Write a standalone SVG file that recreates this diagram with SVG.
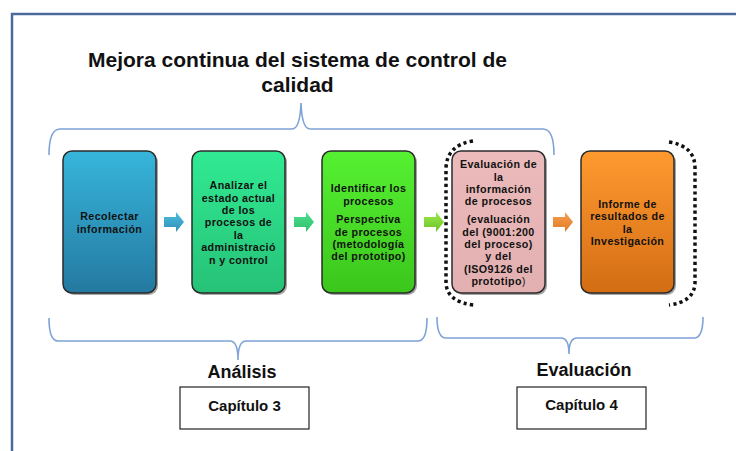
<svg xmlns="http://www.w3.org/2000/svg" width="736" height="451" viewBox="0 0 736 451">
<style>
.frame{fill:none;stroke:#4a6b9c;stroke-width:2.5}
.title{font-family:"Liberation Sans",Arial,sans-serif;font-weight:bold;font-size:21px;fill:#111;text-anchor:middle}
.box{stroke:#2b2b2b;stroke-width:1.5}
.shadow{fill:#000;opacity:0.35}
.bt{font-family:"Liberation Sans",Arial,sans-serif;font-weight:bold;font-size:10.7px;letter-spacing:0.4px;fill:#111;text-anchor:middle}
.brace{fill:none;stroke:#7ea3d6;stroke-width:1.6}
.dots{fill:none;stroke:#111;stroke-width:3.5;stroke-dasharray:3.2 3.2}
.lab{font-family:"Liberation Sans",Arial,sans-serif;font-weight:bold;font-size:18px;fill:#111;text-anchor:middle}
.cap{fill:#fff;stroke:#222;stroke-width:1.2}
.ct{font-family:"Liberation Sans",Arial,sans-serif;font-weight:bold;font-size:15px;fill:#111;text-anchor:middle}
</style>
<defs>
<linearGradient id="g1" x1="0" y1="0" x2="0" y2="1"><stop offset="0" stop-color="#37b5db"/><stop offset="1" stop-color="#2479a0"/></linearGradient>
<linearGradient id="g2" x1="0" y1="0" x2="0" y2="1"><stop offset="0" stop-color="#31ea93"/><stop offset="1" stop-color="#26c277"/></linearGradient>
<linearGradient id="g3" x1="0" y1="0" x2="0" y2="1"><stop offset="0" stop-color="#56f132"/><stop offset="1" stop-color="#3bc61c"/></linearGradient>
<linearGradient id="g4" x1="0" y1="0" x2="0" y2="1"><stop offset="0" stop-color="#ebbaba"/><stop offset="1" stop-color="#e3b0b1"/></linearGradient>
<linearGradient id="g5" x1="0" y1="0" x2="0" y2="1"><stop offset="0" stop-color="#ff9a30"/><stop offset="1" stop-color="#d36d14"/></linearGradient>
<linearGradient id="a1" x1="0" y1="0" x2="0" y2="1"><stop offset="0" stop-color="#4fbde0"/><stop offset="1" stop-color="#2d8fb8"/></linearGradient>
<linearGradient id="a2" x1="0" y1="0" x2="0" y2="1"><stop offset="0" stop-color="#4fe090"/><stop offset="1" stop-color="#2ebf6c"/></linearGradient>
<linearGradient id="a3" x1="0" y1="0" x2="0" y2="1"><stop offset="0" stop-color="#9be84a"/><stop offset="1" stop-color="#6cc428"/></linearGradient>
<linearGradient id="a4" x1="0" y1="0" x2="0" y2="1"><stop offset="0" stop-color="#f7a050"/><stop offset="1" stop-color="#e07a24"/></linearGradient>
</defs>

<rect class="frame" x="12" y="14" width="740" height="450"/>

<g id="title">
<text class="title" x="297.5" y="67">Mejora continua del sistema de control de</text>
<text class="title" x="297.5" y="92">calidad</text>
</g>

<g id="connectors">
<path class="brace" d="M49,155 Q49,129 60,129 L292,129 Q300,129 301,103 Q302,129 310,129 L543,129 Q554,129 554,155"/>
<path class="brace" d="M49,318 Q49,341 58,341 L230,341 Q238,341 238,360 Q238,341 246,341 L418,341 Q427,341 427,318"/>
<path class="brace" d="M437,317 Q437,338 446,338 L561,338 Q569,338 569,354 Q569,338 577,338 L694,338 Q703,338 703,317"/>
<path fill="url(#a1)" d="M164,217 L176,217 L176,212 L184,222 L176,232 L176,227 L164,227 Z"/>
<path fill="url(#a2)" d="M294,217 L306,217 L306,212 L314,222 L306,232 L306,227 L294,227 Z"/>
<path fill="url(#a3)" d="M424,217 L436,217 L436,212 L444,222 L436,232 L436,227 L424,227 Z"/>
<path fill="url(#a4)" d="M553,217 L565,217 L565,212 L573,222 L565,232 L565,227 L553,227 Z"/>
<path class="dots" d="M473,141 Q447,145 446,168 L446,283 Q447,302 474,305"/>
<path class="dots" d="M669,142 Q695,146 695,168 L695,283 Q694,302 669,305"/>
</g>

<g id="n1">
<rect class="shadow" x="65" y="153" width="93" height="142" rx="9"/>
<rect class="box" x="63" y="151" width="93" height="142" rx="9" fill="url(#g1)"/>
<text class="bt" x="109.5" y="220">Recolectar</text>
<text class="bt" x="109.5" y="232.5">información</text>
</g>

<g id="n2">
<rect class="shadow" x="194" y="153" width="93" height="142" rx="9"/>
<rect class="box" x="192" y="151" width="93" height="142" rx="9" fill="url(#g2)"/>
<text class="bt" x="238.5" y="189">Analizar el</text>
<text class="bt" x="238.5" y="201.5">estado actual</text>
<text class="bt" x="238.5" y="214">de los</text>
<text class="bt" x="238.5" y="226.3">procesos de</text>
<text class="bt" x="238.5" y="238.7">la</text>
<text class="bt" x="238.5" y="251.1">administració</text>
<text class="bt" x="238.5" y="263.5">n y control</text>
</g>

<g id="n3">
<rect class="shadow" x="324" y="153" width="93" height="142" rx="9"/>
<rect class="box" x="322" y="151" width="93" height="142" rx="9" fill="url(#g3)"/>
<text class="bt" x="368.5" y="192.3" letter-spacing="0">Identificar los</text>
<text class="bt" x="368.5" y="204.8">procesos</text>
<text class="bt" x="368.5" y="223.3">Perspectiva</text>
<text class="bt" x="368.5" y="235.6">de procesos</text>
<text class="bt" x="368.5" y="247.9">(metodología</text>
<text class="bt" x="368.5" y="260.2">del prototipo)</text>
</g>

<g id="n4">
<rect class="shadow" x="454" y="153" width="93" height="142" rx="9"/>
<rect class="box" x="452" y="151" width="93" height="142" rx="9" fill="url(#g4)"/>
<text class="bt" x="498.5" y="168.3">Evaluación de</text>
<text class="bt" x="498.5" y="180.6">la</text>
<text class="bt" x="498.5" y="192.9">información</text>
<text class="bt" x="498.5" y="205.2">de procesos</text>
<text class="bt" x="498.5" y="223.3">(evaluación</text>
<text class="bt" x="498.5" y="235.6">del (9001:200</text>
<text class="bt" x="498.5" y="247.9">del proceso)</text>
<text class="bt" x="498.5" y="260.2">y del</text>
<text class="bt" x="498.5" y="272.5">(ISO9126 del</text>
<text class="bt" x="498.5" y="284.8">prototipo<tspan font-weight="normal" font-size="10px">)</tspan></text>
</g>

<g id="n5">
<rect class="shadow" x="583" y="153" width="93" height="142" rx="9"/>
<rect class="box" x="581" y="151" width="93" height="142" rx="9" fill="url(#g5)"/>
<text class="bt" x="627.5" y="207.7">Informe de</text>
<text class="bt" x="627.5" y="220.1">resultados de</text>
<text class="bt" x="627.5" y="232.5">la</text>
<text class="bt" x="627.5" y="244.9">Investigación</text>
</g>

<g id="analisis">
<text class="lab" x="242" y="378">Análisis</text>
<rect class="cap" x="180" y="387" width="129" height="42"/>
<text class="ct" x="244.5" y="411">Capítulo 3</text>
</g>

<g id="evaluacion">
<text class="lab" x="584" y="376">Evaluación</text>
<rect class="cap" x="517" y="387" width="129" height="42"/>
<text class="ct" x="581.5" y="410">Capítulo 4</text>
</g>
</svg>
